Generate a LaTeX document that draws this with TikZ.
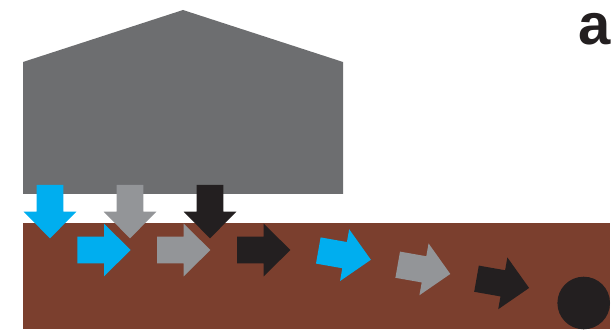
\documentclass[tikz,border=0pt]{standalone}
\usepackage{fontspec}
\setmainfont{Liberation Sans}
\usetikzlibrary{positioning}
\definecolor{housegray}{RGB}{109,110,112}
\definecolor{soilbrown}{RGB}{123,63,46}
\definecolor{flowblue}{RGB}{0,174,239}
\definecolor{flowgray}{RGB}{147,149,152}
\definecolor{flowblack}{RGB}{35,31,32}

\begin{document}
\begin{tikzpicture}[
      x=1pt, y=-1pt,
      flowarrow/.pic={
         \fill (0,-13.3) -- (26.7,-13.3) -- (26.7,-26.3) -- (53.4,0)
            -- (26.7,26.3) -- (26.7,13.3) -- (0,13.3) -- cycle;},
      panellabel/.style={
         font=\fontsize{58}{58}\selectfont\bfseries,
         inner sep=0pt,
         text=flowblack}
      ]
      \useasboundingbox (0,0) rectangle (611,334);

      % soil and house
      \fill[soilbrown] (23,223) rectangle (610,329);
      \fill[housegray] (23,62) -- (183,10) -- (343,62) -- (343,194) -- (23,194) -- cycle;

      % downward flow into the soil
      \foreach \xx/\col in {50/flowblue, 130/flowgray, 210/flowblack}
         \pic[fill=\col, rotate=-90] at (\xx,185) {flowarrow};

      % lateral flow, first row
      \foreach \xx/\col in {77.3/flowblue, 157/flowgray, 237/flowblack}
         \pic[fill=\col] at (\xx,250) {flowarrow};

      % lateral flow, tilted row
      \foreach \xx/\yy/\col in {318.3/250.5/flowblue, 397.7/264.7/flowgray, 476.5/278.7/flowblack}
         \pic[fill=\col, rotate=-10] at (\xx,\yy) {flowarrow};

      \fill[flowblack] (583.7,303) circle[radius=26.3];

      \node[panellabel, anchor=base east] (lbl) at (611,44.5) {a};
    \end{tikzpicture}
\end{document}
